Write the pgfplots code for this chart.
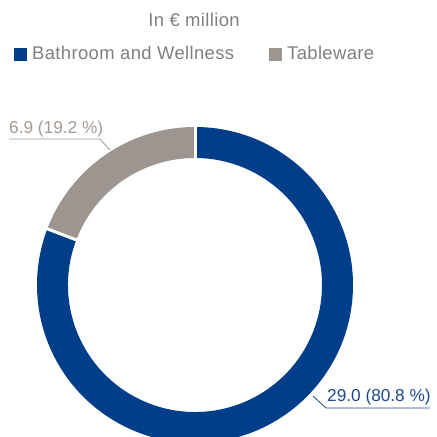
\documentclass[border=0pt]{standalone}
\usepackage{pgfplots}
\pgfplotsset{compat=1.18}
\usepackage{pgfplotstable}
\usepackage{fontspec}
\setmainfont{Liberation Sans}
\newfontfamily\legfont{Liberation Sans}[LetterSpace=2.0]
\definecolor{bw}{HTML}{003E8A}
\definecolor{tw}{HTML}{9D958F}
\definecolor{txt}{HTML}{7F7F7F}
\definecolor{bwtxt}{HTML}{1F4A8F}
\definecolor{twtxt}{HTML}{A39A94}

\pgfplotstableread{
cat value
BW 29.0
TW 6.9
}\donut

\begin{document}
\begin{tikzpicture}
\pgfplotstablegetelem{0}{value}\of\donut \pgfmathsetmacro\va{\pgfplotsretval}
\pgfplotstablegetelem{1}{value}\of\donut \pgfmathsetmacro\vb{\pgfplotsretval}
\pgfmathsetmacro\split{90-360*\va/(\va+\vb)}
\pgfmathsetmacro\fin{\split-360*\vb/(\va+\vb)}
\begin{axis}[hide axis, scale only axis, width=437bp, height=437bp,
  xmin=0, xmax=437, ymin=0, ymax=437, clip=true]
\path (axis cs:0,0) rectangle (axis cs:437,437);
\fill[bw] (axis cs:195,152) ++(90:158bp) arc[start angle=90, end angle=\split, radius=158bp] -- ++(\split:-31bp) arc[start angle=\split, end angle=90, radius=127bp] -- cycle;
\fill[tw] (axis cs:195,152) ++(\split:158bp) arc[start angle=\split, end angle=\fin, radius=158bp] -- ++(\fin:-31bp) arc[start angle=\fin, end angle=\split, radius=127bp] -- cycle;
\draw[white, line width=3bp] (axis cs:195,152) -- ++(90:165bp);
\draw[white, line width=3bp] (axis cs:195,152) -- ++(\split:165bp);
% title and legend
\node[anchor=base, inner sep=0, text=txt, font=\legfont\fontsize{18.5}{20}\selectfont] at (axis cs:194,410) {In € million};
\fill[bw] (axis cs:14,376) rectangle (axis cs:27,389);
\node[anchor=base west, inner sep=0, text=txt, font=\legfont\fontsize{18.5}{20}\selectfont] at (axis cs:32,377) {Bathroom and Wellness};
\fill[tw] (axis cs:269,376) rectangle (axis cs:282,389);
\node[anchor=base west, inner sep=0, text=txt, font=\legfont\fontsize{18.5}{20}\selectfont] at (axis cs:287,377) {Tableware};
% data labels
\node[anchor=base west, inner sep=0, text=twtxt, font=\fontsize{17.3}{20}\selectfont] at (axis cs:9,303) {6.9 (19.2 \%)};
\draw[twtxt, line width=0.8bp] (axis cs:9,298) -- (axis cs:100,298) -- (axis cs:110,287);
\node[anchor=base west, inner sep=0, text=bwtxt, font=\fontsize{17.3}{20}\selectfont] at (axis cs:327,35) {29.0 (80.8 \%)};
\draw[bwtxt, line width=0.8bp] (axis cs:313,41) -- (axis cs:326,29) -- (axis cs:430,29);
\end{axis}
\end{tikzpicture}
\end{document}
